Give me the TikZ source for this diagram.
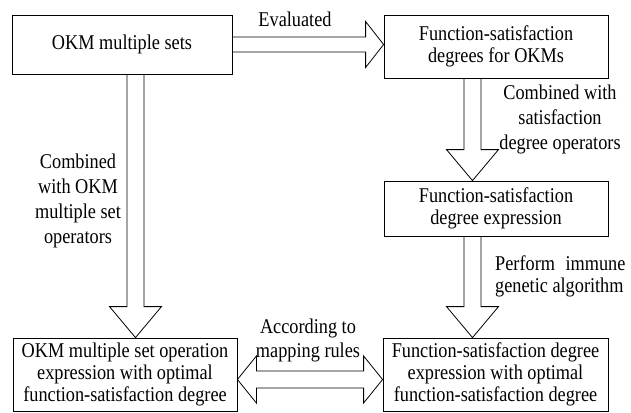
\documentclass[tikz,border=0pt]{standalone}
\usepackage{fontspec}
\setmainfont{Liberation Serif}[FakeStretch=0.87]
\usepackage{tikz}
\usetikzlibrary{calc}

\newcommand\downblock[2]{%
  \draw[blk] let \p1=(#1), \p2=(#2) in
    (\x1-8.5pt,\y1) -- (\x1-8.5pt,\y2+31pt) -- (\x1-26pt,\y2+31pt) -- (\x1,\y2)
    -- (\x1+26pt,\y2+31pt) -- (\x1+8.5pt,\y2+31pt) -- (\x1+8.5pt,\y1);}
\newcommand\rightblock[2]{%
  \draw[blk] let \p1=(#1), \p2=(#2) in
    (\x1,\y1+7.5pt) -- (\x2-18pt,\y1+7.5pt) -- (\x2-18pt,\y1+23pt) -- (\x2,\y1)
    -- (\x2-18pt,\y1-23pt) -- (\x2-18pt,\y1-7.5pt) -- (\x1,\y1-7.5pt);}
\newcommand\bothblock[2]{%
  \draw[blk] let \p1=(#1), \p2=(#2) in
    (\x1,\y1) -- (\x1+19pt,\y1+23.5pt) -- (\x1+19pt,\y1+8.5pt) -- (\x2-19pt,\y1+8.5pt)
    -- (\x2-19pt,\y1+23.5pt) -- (\x2,\y1) -- (\x2-19pt,\y1-23.5pt) -- (\x2-19pt,\y1-8.5pt)
    -- (\x1+19pt,\y1-8.5pt) -- (\x1+19pt,\y1-23.5pt) -- cycle;}

\begin{document}
\begin{tikzpicture}[x=1pt,y=-1pt,
  box/.style={draw,line width=0.8pt,inner sep=0pt,align=center,font=\fontsize{21}{22}\selectfont},
  lbl/.style={inner sep=0pt,font=\fontsize{21}{25}\selectfont},
  blk/.style={line width=0.8pt,line join=miter}]

\useasboundingbox (0,0) rectangle (631,412);

\coordinate (lx) at (135.5,0);
\coordinate (rx) at (472.5,0);
\coordinate (my) at (0,379.5);

\node[box,minimum width=220,minimum height=59] (okm) at (122,44.5) {OKM multiple sets};
\node[box,minimum width=224,minimum height=63] (fsd) at (496,46.5) {Function-satisfaction\\degrees for OKMs};
\node[box,minimum width=224,minimum height=55] (fse) at (496,208.5) {Function-satisfaction\\degree expression};
\node[box,minimum width=224,minimum height=73.5] (lopt) at (125,374.75) {OKM multiple set operation\\expression with optimal\\function-satisfaction degree};
\node[box,minimum width=225,minimum height=73.5] (ropt) at (495.5,374.75) {Function-satisfaction degree\\expression with optimal\\function-satisfaction degree};

\rightblock{okm.east}{okm.east -| fsd.west}
\downblock{okm.south -| lx}{lopt.north -| lx}
\downblock{fsd.south -| rx}{fse.north -| rx}
\downblock{fse.south -| rx}{ropt.north -| rx}
\bothblock{lopt.east |- my}{ropt.west |- my}

\node[lbl] (eval) at (295,19) {Evaluated};
\node[lbl,align=center] (combokm) at (78,201) {Combined\\with OKM\\multiple set\\operators};
\node[lbl,align=center] (combsat) at (560,119) {Combined with\\satisfaction\\degree operators};
\node[lbl,align=left,anchor=west,font=\fontsize{21}{22}\selectfont] (immune) at (495,276) {Perform\enspace immune\\genetic algorithm};
\node[lbl,align=center,font=\fontsize{21}{24}\selectfont] (maprule) at (308,340) {According to\\mapping rules};

\end{tikzpicture}
\end{document}
